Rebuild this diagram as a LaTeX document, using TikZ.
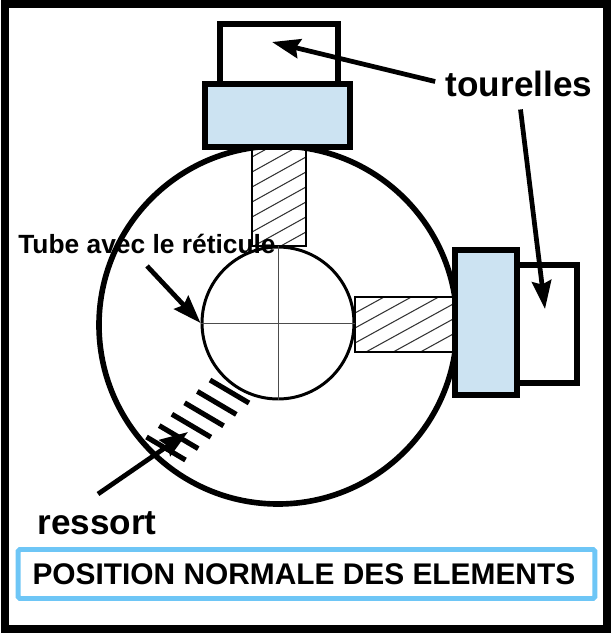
\documentclass[tikz,border=0pt]{standalone}
\usepackage{fontspec}
\setmainfont{Liberation Sans}
\usetikzlibrary{arrows.meta}
\definecolor{tourelleblue}{HTML}{CCE3F2}
\definecolor{framesky}{HTML}{6EC6F6}
\tikzset{
  thickline/.style={line width=3.2pt},
  thinline/.style={line width=1.7pt},
  pointer/.style={line width=2.7pt,-{Stealth[length=16pt,width=11pt,inset=2pt]}},
  hatchline/.style={line width=0.6pt,draw=black!80},
  label/.style={font=\bfseries\fontsize{20}{20}\selectfont,inner sep=0pt}
}
\begin{document}
\begin{tikzpicture}[x=0.02cm,y=-0.02cm]
        \useasboundingbox (0,0) rectangle (612,635);
        % outer frame
        \draw[line width=4.5pt] (5,4) rectangle (607,629);
        % body of the sight
        \draw[thickline] (278,325) circle (179);
        % hatched pushers
        \begin{scope}
          \clip (252,148) rectangle (306,246);
          \foreach \c in {157,172,...,262}
            \draw[hatchline] (252,\c) -- (306,\c-30);
        \end{scope}
        \draw[thinline] (252,148) rectangle (306,246);
        \begin{scope}
          \clip (355,297) rectangle (455,352);
          \foreach \c in {313,328,...,388}
            \draw[hatchline] (355,\c) -- (455,\c-55);
        \end{scope}
        \draw[thinline] (455,297) -- (355,297) -- (355,352) -- (455,352);
        % top turret
        \draw[thickline] (220,24) rectangle (338,84);
        \draw[thickline,fill=tourelleblue] (205,84) rectangle (350,147);
        % right turret
        \draw[thickline] (517,265) rectangle (577,383);
        \draw[thickline,fill=tourelleblue] (455,250) rectangle (517,395);
        % tube with crosshair
        \node[draw,circle,line width=1.7pt,fill=white,minimum size=3.04cm,inner sep=0pt] (tube) at (278,323) {};
        \draw[line width=0.5pt,black!70] (tube.west) -- (tube.east);
        \draw[line width=0.5pt,black!70] (tube.north) -- (tube.south);
        % spring
        \foreach \i in {0,...,5}
          \draw[line width=2.9pt] (210-\i*12.7,380+\i*11.4) -- (249-\i*12.7,403+\i*11.4);
        % labels
        \node[label] (tourelles) at (519,84) {tourelles};
        \node[label] (ressort) at (97,523) {ressort};
        \node[font=\bfseries\fontsize{15}{16}\selectfont,inner sep=0pt] (tubetext) at (147,244) {Tube avec le réticule};
        \node[draw=framesky,line width=2.8pt,rounded corners=1pt,minimum width=11.54cm,minimum height=0.98cm,
              font=\bfseries\fontsize{17}{18}\selectfont] (caption) at (306.5,574)
          {\hspace{-3pt}POSITION NORMALE DES ELEMENTS};
        % arrows
        \coordinate (toptip) at (272,42);
        \coordinate (righttip) at (545,309);
        \coordinate (tubestart) at (147,266);
        \coordinate (springstart) at (98,494);
        \coordinate (springtip) at (188,432);
        \draw[pointer,shorten <=6pt] (tourelles.west) -- (toptip);
        \draw[pointer,shorten <=7pt] (tourelles.south) -- (righttip);
        \draw[pointer] (tubestart) -- (tube.west);
        \draw[pointer] (springstart) -- (springtip);
      \end{tikzpicture}
\end{document}
